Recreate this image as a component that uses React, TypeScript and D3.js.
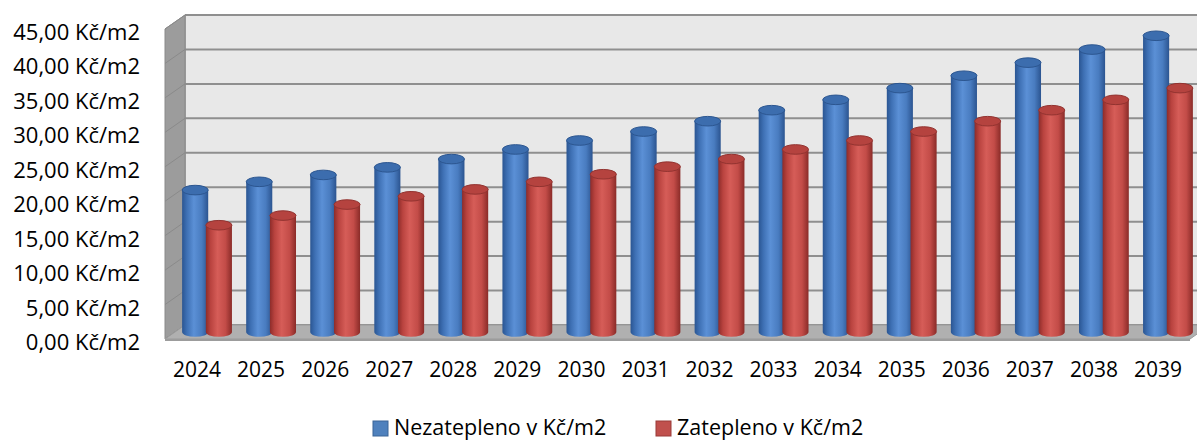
import * as React from 'react';
import * as d3 from 'd3';

const years = ['2024', '2025', '2026', '2027', '2028', '2029', '2030', '2031', '2032', '2033', '2034', '2035', '2036', '2037', '2038', '2039'];
const nezatepleno = [20.6, 21.8, 22.8, 23.9, 25.1, 26.5, 27.8, 29.1, 30.6, 32.2, 33.7, 35.4, 37.2, 39.1, 41.0, 43.0];
const zatepleno = [15.5, 16.9, 18.5, 19.7, 20.7, 21.8, 22.9, 24.0, 25.1, 26.5, 27.8, 29.1, 30.6, 32.2, 33.7, 35.4];
const seriesNames = ['Nezatepleno v Kč/m2', 'Zatepleno v Kč/m2'];
const yMax = 45;

const font = '"Open Sans", sans-serif';

// 3D box: front plane origin + depth offset
const X0 = 165;
const Y0 = 339;
const DX = 20;
const DY = -14;

const fmt = (v: number) => d3.format('.2f')(v).replace('.', ',') + ' Kč/m2';

function Cylinder({ cx, top, bottom, rx, ry, grad, cap, capStroke }: {
  cx: number; top: number; bottom: number; rx: number; ry: number; grad: string; cap: string; capStroke: string;
}) {
  const body = `M${cx - rx},${top} L${cx - rx},${bottom} A${rx},${ry} 0 0 0 ${cx + rx},${bottom} L${cx + rx},${top} Z`;
  return (
    <g>
      <path d={body} fill={`url(#${grad})`} />
      <ellipse cx={cx} cy={top} rx={rx} ry={ry} fill={cap} stroke={capStroke} strokeWidth={1} />
    </g>
  );
}

export default function App() {
  const width = 1197;
  const height = 441;

  const x = d3.scaleBand<string>().domain(years).range([0, 1025]);
  const x1 = d3.scaleBand<string>().domain(seriesNames).range([0, x.bandwidth()]).paddingOuter(0.35);
  const y = d3.scaleLinear().domain([0, yMax]).range([0, 310]);
  const ticks = y.ticks(10);

  // project (horizontal pos, value, depth 0..1) onto screen
  const px = (h: number, depth: number) => X0 + h + depth * DX;
  const py = (v: number, depth: number) => Y0 - y(v) + depth * DY;

  const W = x.range()[1];
  const rx = x1.step() * 0.55;
  const ry = 4.8;

  const sideWall = [
    [px(0, 0), py(0, 0)], [px(0, 0), py(yMax, 0)], [px(0, 1), py(yMax, 1)], [px(0, 1), py(0, 1)]
  ];
  const floor = [
    [px(0, 0), py(0, 0)], [px(0, 1), py(0, 1)], [px(W, 1), py(0, 1)], [px(W, 0), py(0, 0)]
  ];
  const poly = (pts: number[][]) => pts.map(p => p.join(',')).join(' ');

  const data = [nezatepleno, zatepleno];
  const grads = ['gBlue', 'gRed'];
  const caps = ['#3c6dae', '#b5433f'];
  const capStrokes = ['#2c5690', '#923330'];
  const swatch = ['#4f81bd', '#c0504d'];
  const swatchStroke = ['#3a6597', '#9a3b38'];

  return (
    <svg width={width} height={height} style={{ position: 'absolute', left: 0, top: 0 }}>
      <defs>
        <linearGradient id="gBlue" x1="0" x2="1" y1="0" y2="0">
          <stop offset="0" stopColor="#2a5592" />
          <stop offset="0.18" stopColor="#3e70b4" />
          <stop offset="0.45" stopColor="#5b90d6" />
          <stop offset="0.75" stopColor="#497cc0" />
          <stop offset="1" stopColor="#2b5490" />
        </linearGradient>
        <linearGradient id="gRed" x1="0" x2="1" y1="0" y2="0">
          <stop offset="0" stopColor="#8d2c2a" />
          <stop offset="0.18" stopColor="#b9433f" />
          <stop offset="0.45" stopColor="#d65d58" />
          <stop offset="0.75" stopColor="#c34c48" />
          <stop offset="1" stopColor="#8a2b28" />
        </linearGradient>
      </defs>
      <rect width={width} height={height} fill="#ffffff" />

      {/* back wall */}
      <rect x={px(0, 1)} y={py(yMax, 1)} width={W + 10} height={y(yMax)} fill="#e8e8e8" />
      {ticks.map(t => (
        <line key={'g' + t} x1={px(0, 1)} x2={px(W, 1)} y1={py(t, 1)} y2={py(t, 1)} stroke="#8f8f8f" strokeWidth={2} />
      ))}
      <line x1={px(0, 1)} x2={px(0, 1)} y1={py(0, 1)} y2={py(yMax, 1)} stroke="#8f8f8f" strokeWidth={1.5} />

      {/* side wall */}
      <polygon points={poly(sideWall)} fill="#9c9c9c" stroke="#8a8a8a" strokeWidth={1} />
      {ticks.map(t => (
        <line key={'s' + t} x1={px(0, 0)} x2={px(0, 1)} y1={py(t, 0)} y2={py(t, 1)} stroke="#8a8a8a" strokeWidth={1} />
      ))}

      {/* floor */}
      <polygon points={poly(floor)} fill="#b0b0b0" stroke="#9a9a9a" strokeWidth={1} />
      <line x1={px(0, 0)} x2={px(W, 0)} y1={py(0, 0) + 1} y2={py(0, 0) + 1} stroke="#9c9c9c" strokeWidth={2} />

      {/* bars */}
      {years.map((yr, i) => (
        <g key={yr}>
          {seriesNames.map((s, j) => {
            const cx = px((x(yr) ?? 0) + (x1(s) ?? 0) + x1.bandwidth() / 2, 0.5);
            return (
              <Cylinder key={s} cx={cx} top={py(data[j][i], 0.5)} bottom={py(0, 0.5)} rx={rx} ry={ry}
                grad={grads[j]} cap={caps[j]} capStroke={capStrokes[j]} />
            );
          })}
        </g>
      ))}

      {/* y axis labels */}
      {ticks.map(t => (
        <text key={'y' + t} x={140} y={py(t, 0) + 2} textAnchor="end" dominantBaseline="central"
          fontFamily={font} fontSize={22} fill="#000">{fmt(t)}</text>
      ))}

      {/* x axis labels */}
      {years.map(yr => (
        <text key={'x' + yr} x={px((x(yr) ?? 0) + x.bandwidth() / 2, 0)} y={377} textAnchor="middle"
          fontFamily={font} fontSize={21} fill="#000">{yr}</text>
      ))}

      {/* legend */}
      {seriesNames.map((s, j) => {
        const lx = [373, 656][j];
        return (
          <g key={'l' + s}>
            <rect x={lx} y={421} width={15} height={15} fill={swatch[j]} stroke={swatchStroke[j]} strokeWidth={1} />
            <text x={lx + 21} y={435} fontFamily={font} fontSize={21.5} fill="#000">{s}</text>
          </g>
        );
      })}
    </svg>
  );
}
